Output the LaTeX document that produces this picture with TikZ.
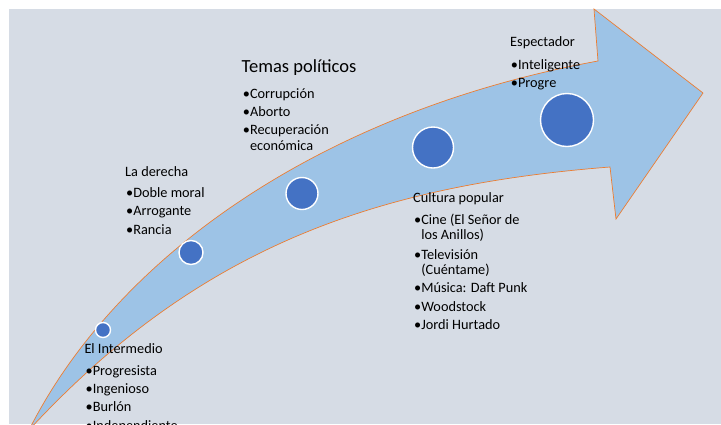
\documentclass[tikz,border=0pt]{standalone}
\usepackage{fontspec}
\setmainfont{Carlito}
\definecolor{bggray}{HTML}{D6DCE5}
\definecolor{arrowblue}{HTML}{9DC3E6}
\definecolor{edgeorange}{HTML}{ED7D31}
\definecolor{dotblue}{HTML}{4472C4}

\begin{document}
\begin{tikzpicture}[x=1pt, y=-1pt,
		dot/.style={circle, draw=white, line width=1.4pt, fill=dotblue, inner sep=0pt},
		title/.style={anchor=base west, inner sep=0pt, font=\fontsize{14.3}{16}\selectfont},
		items/.style={anchor=base west, align=left, inner sep=0pt, font=\fontsize{14.3}{16}\selectfont}]
		\useasboundingbox (0,0) rectangle (721,424);
		\clip (0,0) rectangle (721,424);
		\fill[bggray] (9,9) rectangle (721,424);
		% curved arrow
		\filldraw[fill=arrowblue, draw=edgeorange, line width=0.7pt] (29,430) .. controls (120,250) and (330,110) .. (598,61) -- (594,9) -- (703,93) -- (616,219) -- (610,167) .. controls (380,185) and (200,245) .. (29,430) -- cycle;
		% stages
		\node[dot, minimum size=15pt] (intermedio) at (103,330) {};
		\node[dot, minimum size=24pt] (derecha) at (191,252.5) {};
		\node[dot, minimum size=32pt] (temas) at (302,193.5) {};
		\node[dot, minimum size=41pt] (cultura) at (433,147.5) {};
		\node[dot, minimum size=53pt] (espectador) at (567,120) {};
		% texts (lists are placed by the baseline of their last line)
		\node[title] (intermediotitle) at (84.3,353.3) {El Intermedio};
		\node[items] (intermediolist) at (85.5,430) {•Progresista\\[2.3pt] •Ingenioso\\[2.3pt] •Burlón\\[2.3pt] •Independiente};
		\node[title] (derechatitle) at (125,176) {La derecha};
		\node[items] (derechalist) at (126,234) {•Doble moral\\[2.2pt] •Arrogante\\[2.2pt] •Rancia};
		\node[title, font=\fontsize{18.5}{20}\selectfont] (temastitle) at (241.5,72.7) {Temas políticos};
		\node[items] (temaslist) at (242.7,150) {•Corrupción\\[2pt] •Aborto\\[2pt] •Recuperación\\ \hphantom{•}económica};
		\node[title] (culturatitle) at (413,202.7) {Cultura popular};
		\node[items] (culturalist) at (414,329.5) {•Cine (El Señor de\\[-0.5pt] \hphantom{•}los Anillos)\\[3.5pt] •Televisión\\[-0.5pt] \hphantom{•}(Cuéntame)\\[2pt] •Música: Daft Punk\\[2.3pt] •Woodstock\\[2.3pt] •Jordi Hurtado};
		\node[title] (espectadortitle) at (510,46.7) {Espectador};
		\node[items] (espectadorlist) at (510.7,87.5) {•Inteligente\\[2.4pt] •Progre};
	\end{tikzpicture}
\end{document}
